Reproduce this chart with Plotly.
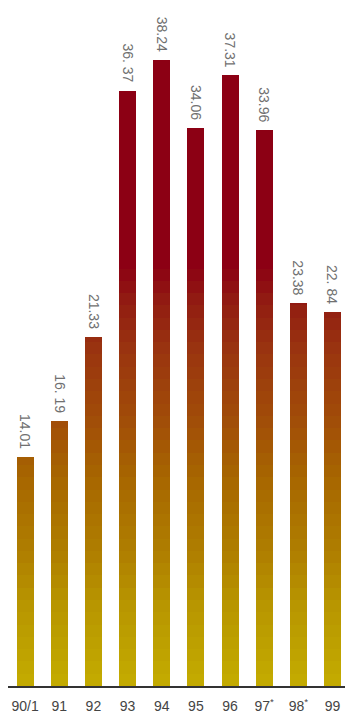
import plotly.graph_objects as go
import numpy as np

# Yearly values
years = ["90/1", "91", "92", "93", "94", "95", "96", "97<sup>*</sup>", "98<sup>*</sup>", "99"]
values = [14.01, 16.19, 21.33, 36.37, 38.24, 34.06, 37.31, 33.96, 23.38, 22.84]
value_labels = ["14.01", "16. 19", "21.33", "36. 37", "38.24", "34.06", "37.31", "33.96", "23.38", "22. 84"]

# Colour ramp by height (value units -> RGB), yellow at the base to deep red
ramp_stops = [0.0, 5.0, 8.0, 12.5, 16.0, 20.5, 23.5, 25.7, 45.0]
ramp_cols = [
    (196, 172, 0), (184, 150, 0), (176, 128, 0), (168, 104, 0),
    (162, 79, 8), (154, 53, 16), (146, 28, 18), (140, 0, 20), (140, 0, 20),
]

def ramp(v):
    r = np.interp(v, ramp_stops, [c[0] for c in ramp_cols])
    g = np.interp(v, ramp_stops, [c[1] for c in ramp_cols])
    b = np.interp(v, ramp_stops, [c[2] for c in ramp_cols])
    return f"rgb({int(r)},{int(g)},{int(b)})"

step = 0.75
n_bands = int(np.ceil(max(values) / step))

fig = go.Figure()
xs = list(range(len(years)))
for k in range(n_bands):
    lo = k * step
    seg = [max(0.0, min(step, v - lo)) for v in values]
    fig.add_trace(go.Bar(
        x=xs, y=seg, width=0.5,
        marker=dict(color=ramp(lo + step / 2), line=dict(width=0)),
        hoverinfo="skip", showlegend=False,
    ))

for i, (v, t) in enumerate(zip(values, value_labels)):
    fig.add_annotation(
        x=i, y=v, text=t, textangle=90, showarrow=False,
        xanchor="center", yanchor="bottom", yshift=6,
        font=dict(family="Liberation Sans, Arial", size=14, color="#707070"),
    )

fig.update_layout(
    width=345, height=715,
    margin=dict(l=8, r=0, t=0, b=29),
    barmode="stack", bargap=0,
    plot_bgcolor="white", paper_bgcolor="white",
    xaxis=dict(
        range=[-0.5, 9.365], tickmode="array", tickvals=xs, ticktext=years,
        showline=True, linecolor="#333333", linewidth=2,
        showgrid=False, zeroline=False, ticks="", ticklabelstandoff=6,
        tickfont=dict(family="Liberation Sans, Arial", size=14, color="#444444"),
    ),
    yaxis=dict(range=[0, 41.9], visible=False, showgrid=False, zeroline=False),
)

fig.write_html("out.html")
